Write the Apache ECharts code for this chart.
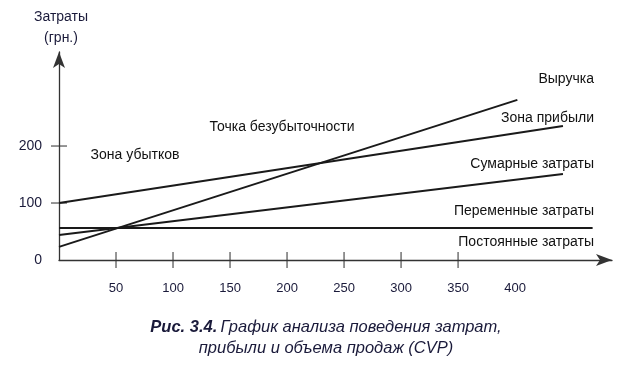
<!DOCTYPE html>
<html><head><meta charset="utf-8">
<script src="https://cdn.jsdelivr.net/npm/echarts@6/dist/echarts.min.js"></script>
<style>html,body{margin:0;padding:0;background:#fff}#c{width:624px;height:367px}</style>
</head><body><div id="c"></div>
<script>
// Data
const fixedCosts = [[0, 56], [468, 56]];          // Постоянные / Переменные затраты (horizontal)
const upperLine  = [[0, 100], [442, 235]];        // Зона прибыли line
const revenue    = [[0, 23], [402, 281]];         // Выручка
const lowerLine  = [[0, 44], [442, 151]];         // Сумарные затраты line
const xTicks = [50, 100, 150, 200, 250, 300, 350];
const xTickLabels = [50, 100, 150, 200, 250, 300, 350, 400];
const yTicks = [100, 200];
const yTickLabels = [0, 100, 200];
const lineLabels = ['Выручка', 'Зона прибыли', 'Сумарные затраты', 'Переменные затраты', 'Постоянные затраты'];

const chart = echarts.init(document.getElementById('c'), null, {renderer: 'canvas'});
const FONT = '"Liberation Sans", Arial, sans-serif';
const lineStyle = {color: '#1a1a1a', width: 2};
const mk = (d) => ({type: 'line', data: d, symbol: 'none', lineStyle, silent: true, animation: false});

chart.setOption({
  animation: false,
  grid: {left: 59, top: 52, width: 553, height: 208, containLabel: false},
  xAxis: {
    type: 'value', min: 0, max: 485, interval: 50,
    axisLine: {lineStyle: {color: '#333', width: 1.3}, symbol: ['none', 'arrow'], symbolSize: [9, 16]},
    axisTick: {show: false},
    splitLine: {show: false},
    axisLabel: {
      margin: 22, color: '#1a1a3a', fontFamily: FONT, fontSize: 13,
      customValues: xTickLabels
    }
  },
  yAxis: {
    type: 'value', min: 0, max: 365, interval: 100,
    axisLine: {show: true, lineStyle: {color: '#333', width: 1.3}, symbol: ['none', 'arrow'], symbolSize: [9, 16]},
    axisTick: {show: false},
    splitLine: {show: false},
    axisLabel: {
      margin: 17, color: '#1a1a3a', fontFamily: FONT, fontSize: 14,
      customValues: yTickLabels
    }
  },
  series: [
    mk(fixedCosts), mk(upperLine), mk(revenue), mk(lowerLine),
    {type: 'scatter', silent: true, symbol: 'rect', symbolSize: [1.3, 16],
     itemStyle: {color: '#333'}, data: xTicks.map(v => [v, 0]), z: 1},
    {type: 'scatter', silent: true, symbol: 'rect', symbolSize: [16, 1.3],
     itemStyle: {color: '#333'}, data: yTicks.map(v => [0, v]), z: 1}
  ],
  graphic: [
    {type: 'text', style: {text: 'Затраты', font: '14px ' + FONT, fill: '#1a1a3a', textAlign: 'center'}, position: [61, 10]},
    {type: 'text', style: {text: '(грн.)', font: '14px ' + FONT, fill: '#1a1a3a', textAlign: 'center'}, position: [61, 31]},
    {type: 'text', style: {text: 'Зона убытков', font: '14px ' + FONT, fill: '#111', textAlign: 'center'}, position: [135, 148]},
    {type: 'text', style: {text: 'Точка безубыточности', font: '14px ' + FONT, fill: '#111', textAlign: 'center'}, position: [282, 120]},
    {type: 'text', style: {text: lineLabels[0], font: '14px ' + FONT, fill: '#111', textAlign: 'right'}, position: [594, 72]},
    {type: 'text', style: {text: lineLabels[1], font: '14px ' + FONT, fill: '#111', textAlign: 'right'}, position: [594, 111]},
    {type: 'text', style: {text: lineLabels[2], font: '14px ' + FONT, fill: '#111', textAlign: 'right'}, position: [594, 157]},
    {type: 'text', style: {text: lineLabels[3], font: '14px ' + FONT, fill: '#111', textAlign: 'right'}, position: [594, 204]},
    {type: 'text', style: {text: lineLabels[4], font: '14px ' + FONT, fill: '#111', textAlign: 'right'}, position: [594, 235]},
    {type: 'text', style: {
      text: '{b|Рис. 3.4.} {i|График анализа поведения затрат,}\n{i|прибыли и объема продаж (CVP)}',
      textAlign: 'center', fill: '#1a1a3a', lineHeight: 21,
      rich: {
        b: {font: 'italic bold 16.5px ' + FONT, fill: '#1a1a3a', lineHeight: 21},
        i: {font: 'italic 16.5px ' + FONT, fill: '#1a1a3a', lineHeight: 21}
      }
    }, position: [326, 317]}
  ]
});
</script></body></html>
